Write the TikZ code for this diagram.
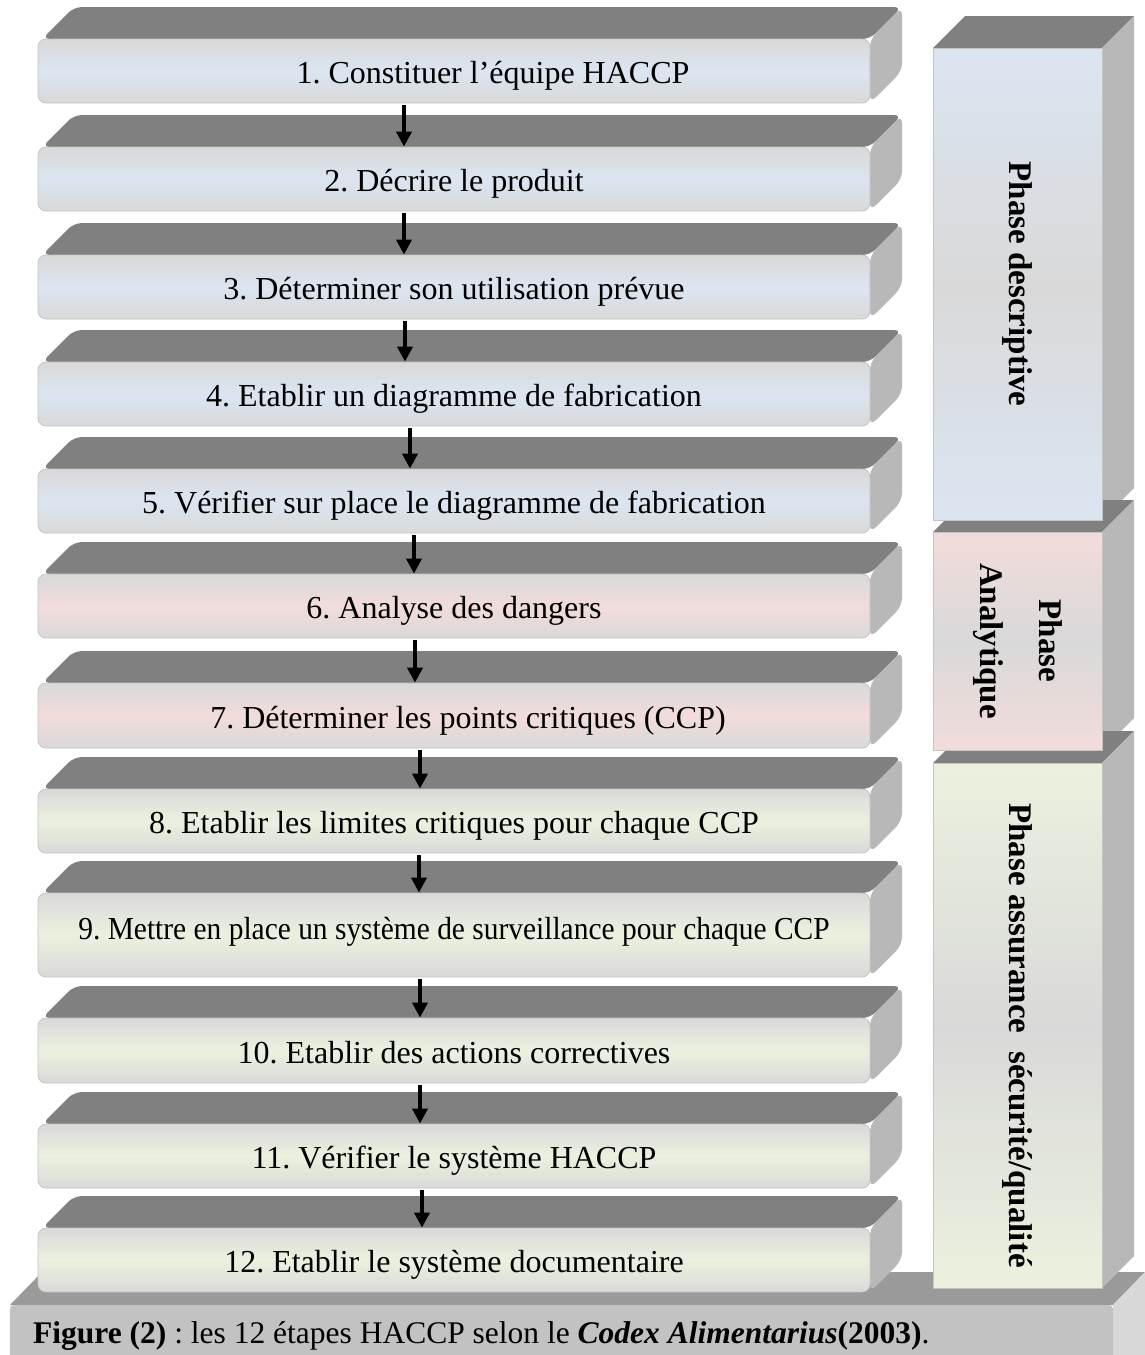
\documentclass[tikz,border=0pt]{standalone}
\usepackage{fontspec}
\setmainfont{Liberation Serif}
\usetikzlibrary{arrows.meta}
\definecolor{topgray}{HTML}{808080}
\definecolor{sidegray}{HTML}{B8B8B8}
\definecolor{facegray}{HTML}{D9D9D9}
\definecolor{edgegray}{HTML}{C4C4C4}
\definecolor{tintblue}{HTML}{DBE5F1}
\definecolor{tintpink}{HTML}{F2DCDB}
\definecolor{tintgreen}{HTML}{EBF1DE}
\definecolor{basetop}{HTML}{9A9A9A}
\definecolor{basefront}{HTML}{C2C2C2}
\definecolor{baseside}{HTML}{D8D8D8}
\frenchspacing

\begin{document}
\begin{tikzpicture}[x=1pt,y=-1pt,
                        topface/.style={fill=topgray,rounded corners=8},
                        sideface/.style={fill=sidegray,rounded corners=8},
                        stepbox/.style={draw=edgegray,line width=0.8,rounded corners=8,minimum width=832,
                        inner sep=0,text height=25pt,text depth=0pt,font=\fontsize{32}{38}\selectfont},
                        phasebox/.style={draw=edgegray,line width=0.8,rotate=-90,minimum height=169,
                        inner sep=0,align=center,font=\bfseries\fontsize{33}{34}\selectfont},
                        flow/.style={line width=4,-{Triangle[length=15pt,width=15pt]}}
                        ]
                        \def\xl{38}   % left edge of the steps
                        \def\xr{870}  % right edge of the steps
                        \def\d{32}    % depth of the blocks
                        \def\px{933}  % left edge of the phase column
                        \def\pw{169}  % width of the phase column

                        \useasboundingbox (0,0) rectangle (1145,1355);

                        % base slab
                        \fill[basetop] (10,1305) -- (42,1272) -- (1145,1272) -- (1113,1305) -- cycle;
                        \fill[baseside] (1113,1305) -- (1145,1272) -- (1145,1370) -- (1113,1370) -- cycle;
                        \fill[basefront,rounded corners=4] (10,1305) rectangle (1113,1380);
                        \node[anchor=base west,inner sep=0,font=\fontsize{31.5}{36}\selectfont] (caption) at (33,1343)
                            {\textbf{Figure (2)} : les 12 étapes HACCP selon le \textbf{\textit{Codex Alimentarius}(2003)}.};

                        % steps
                        \foreach \n/\y/\h/\c/\s/\txt in {
                            1/39/64/tintblue/78/{1. Constituer l’équipe HACCP},
                            2/147/64/tintblue/0/{2. Décrire le produit},
                            3/255/64/tintblue/0/{3. Déterminer son utilisation prévue},
                            4/362/64/tintblue/0/{4. Etablir un diagramme de fabrication},
                            5/469/64/tintblue/0/{5. Vérifier sur place le diagramme de fabrication},
                            6/574/64/tintpink/0/{6. Analyse des dangers},
                            7/683/65/tintpink/28/{7. Déterminer les points critiques (CCP)},
                            8/789/64/tintgreen/0/{8. Etablir les limites critiques pour chaque CCP},
                            9/893/84/tintgreen/0/{\raisebox{8pt}{\scalebox{0.92}[1]{9. Mettre en place un système de surveillance pour chaque CCP}}},
                            10/1018/65/tintgreen/0/{10. Etablir des actions correctives},
                            11/1124/64/tintgreen/0/{11. Vérifier le système HACCP},
                            12/1228/64/tintgreen/0/{12. Etablir le système documentaire}} {
                            \fill[topface] (\xl+4,\y) -- ++(\d,-\d) -- (\xr+\d,\y-\d) -- (\xr,\y) -- cycle;
                            \fill[sideface] (\xr,\y) -- (\xr+\d,\y-\d) -- (\xr+\d,\y+\h-\d) -- (\xr,\y+\h) -- cycle;
                            \node[stepbox,minimum height=\h,top color=facegray,bottom color=facegray,middle color=\c]
                                (s\n) at (\xl+416,\y+\h/2) {\hspace*{\s pt}\txt};
                        }

                        \foreach \a/\b/\s in {1/2/-50,2/3/-50,3/4/-49,4/5/-44,5/6/-40,6/7/-39,
                                              7/8/-34,8/9/-35,9/10/-34,10/11/-34,11/12/-32}
                            \draw[flow] ([xshift=\s,yshift=-2]s\a.south) -- ([xshift=\s]s\b.north);

                        % phase column
                        \foreach \y/\h in {48/472,532/218,763/525} {
                            \fill[topface,rounded corners=0] (\px,\y) -- ++(\d,-\d) -- (\px+\pw+\d,\y-\d) -- (\px+\pw,\y) -- cycle;
                            \fill[sideface,rounded corners=0] (\px+\pw,\y) -- ++(\d,-\d) -- ++(0,\h) -- (\px+\pw,\y+\h) -- cycle;
                        }
                        \foreach \nm/\y/\h/\c/\txt in {
                            desc/48/472/tintblue/{Phase descriptive},
                            anal/532/218/tintpink/{Phase\\[25pt]Analytique},
                            assur/763/525/tintgreen/{\hspace*{20pt}Phase assurance\hspace{18pt}sécurité/qualité}}
                            \node[phasebox,minimum width=\h,top color=\c,bottom color=\c,middle color=facegray]
                                (\nm) at (\px+\pw/2,\y+\h/2) {\txt};
                    \end{tikzpicture}
\end{document}
